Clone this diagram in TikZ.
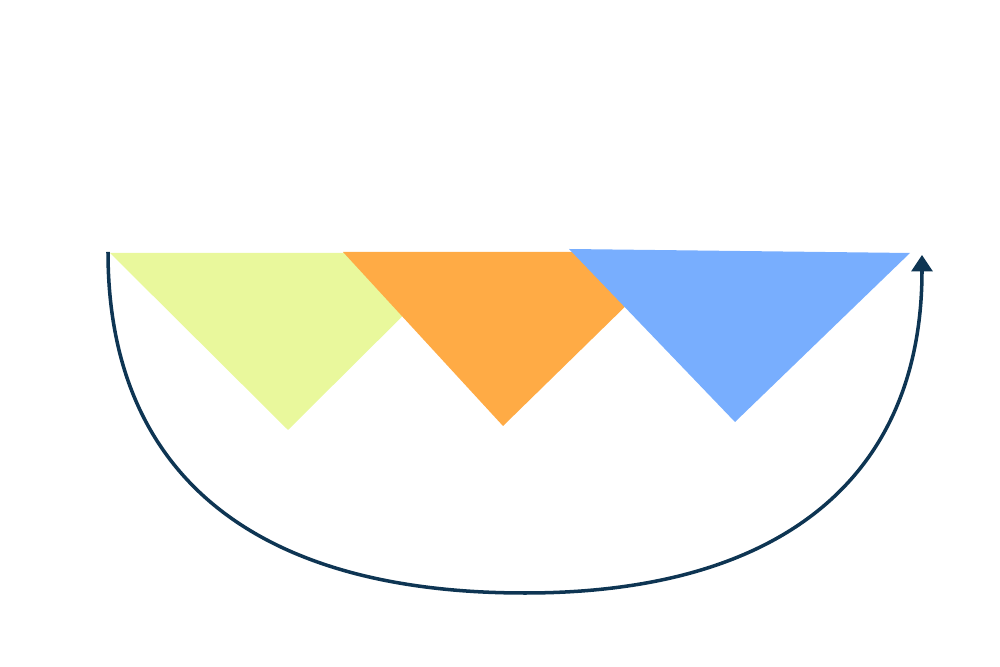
\documentclass[tikz,border=0pt]{standalone}
\usepackage{xcolor}
\usepackage{tikz}
\usetikzlibrary{arrows.meta}
\definecolor{lime}{HTML}{E9F89C}
\definecolor{apricot}{HTML}{FFAB45}
\definecolor{sky}{HTML}{78AEFE}
\definecolor{navy}{HTML}{0E3553}
\begin{document}
\begin{tikzpicture}[
    wedge/.style={draw=none},
    loop/.style={navy, line width=2pt, -{Triangle[width=0.42cm,length=0.33cm]}}
  ]
        \useasboundingbox (0,0) rectangle (20,13.34);
        % Yellow wedge
        \fill[wedge, lime] (2.2,8.28) -- (9.32,8.28) -- (5.76,4.74) -- cycle;
        % Orange wedge
        \fill[wedge, apricot] (6.86,8.30) -- (13.62,8.30) -- (10.06,4.82) -- cycle;
        % Blue wedge
        \fill[wedge, sky] (11.38,8.36) -- (18.2,8.28) -- (14.7,4.90) -- cycle;

        % Return arrow
        \coordinate (start) at (2.16,8.30);
        \coordinate (bottom) at (10.5,1.48);
        \coordinate (finish) at (18.44,8.24);
        \draw[loop] (start) .. controls (2.16,3.86) and (5.08,1.48) .. (bottom)
            .. controls (15.66,1.48) and (18.44,3.82) .. (finish);
    \end{tikzpicture}
\end{document}
